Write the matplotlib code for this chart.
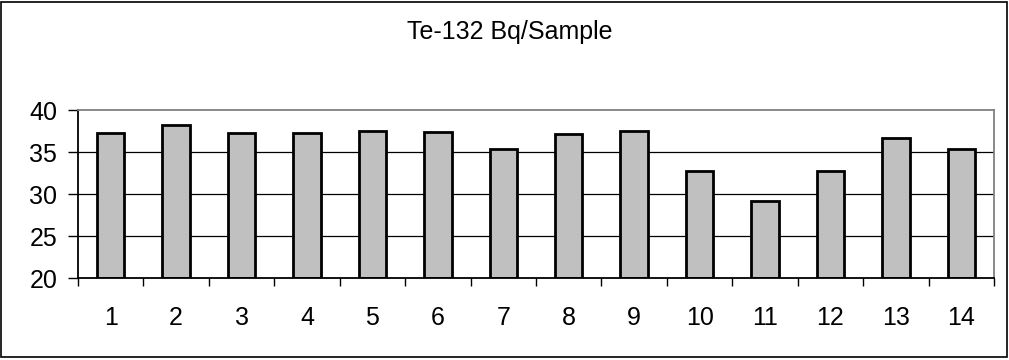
import matplotlib.pyplot as plt
from matplotlib.patches import Rectangle
from matplotlib.ticker import FixedLocator

plt.rcParams['font.family'] = ['Liberation Sans', 'DejaVu Sans']

samples = list(range(1, 15))
activity = [37.3, 38.2, 37.3, 37.3, 37.5, 37.4, 35.3, 37.2, 37.5, 32.7, 29.2, 32.7, 36.7, 35.3]
y_ticks = [20, 25, 30, 35, 40]

fig = plt.figure(figsize=(10.09, 3.6), dpi=100)
ax = fig.add_axes([78 / 1009, 1 - 278 / 360, (994 - 78) / 1009, (278 - 110) / 360])

# gridlines behind the bars
for v in y_ticks[1:-1]:
    ax.axhline(v, color='black', linewidth=0.9, zorder=1)

ax.bar(samples, [a - 20 for a in activity], bottom=20, width=0.42,
       color='#C0C0C0', edgecolor='black', linewidth=2, zorder=2)

ax.set_xlim(0.5, 14.5)
ax.set_ylim(20, 40)
ax.set_yticks(y_ticks)
ax.set_xticks(samples)
ax.set_xticklabels([str(s) for s in samples])
ax.xaxis.set_minor_locator(FixedLocator([s + 0.5 for s in range(0, 15)]))

ax.tick_params(axis='x', which='major', length=0, pad=20, labelsize=18)
ax.tick_params(axis='x', which='minor', direction='out', length=6, width=1)
ax.tick_params(axis='y', direction='out', length=7, width=1, pad=8, labelsize=18)

ax.spines['left'].set_color('black')
ax.spines['bottom'].set_color('black')
ax.spines['top'].set_color('#808080')
ax.spines['right'].set_color('#808080')
for s in ax.spines.values():
    s.set_linewidth(1.3)

fig.text(510 / 1009, 1 - 39.5 / 360, 'Te-132 Bq/Sample', ha='center', va='baseline', fontsize=18)

# outer frame round the whole chart
fig.patches.append(Rectangle((1 / 1009, 3 / 360), 1006 / 1009, 355 / 360,
                             transform=fig.transFigure, fill=False,
                             edgecolor='black', linewidth=1.2))

fig.savefig('out.png', dpi=100)
